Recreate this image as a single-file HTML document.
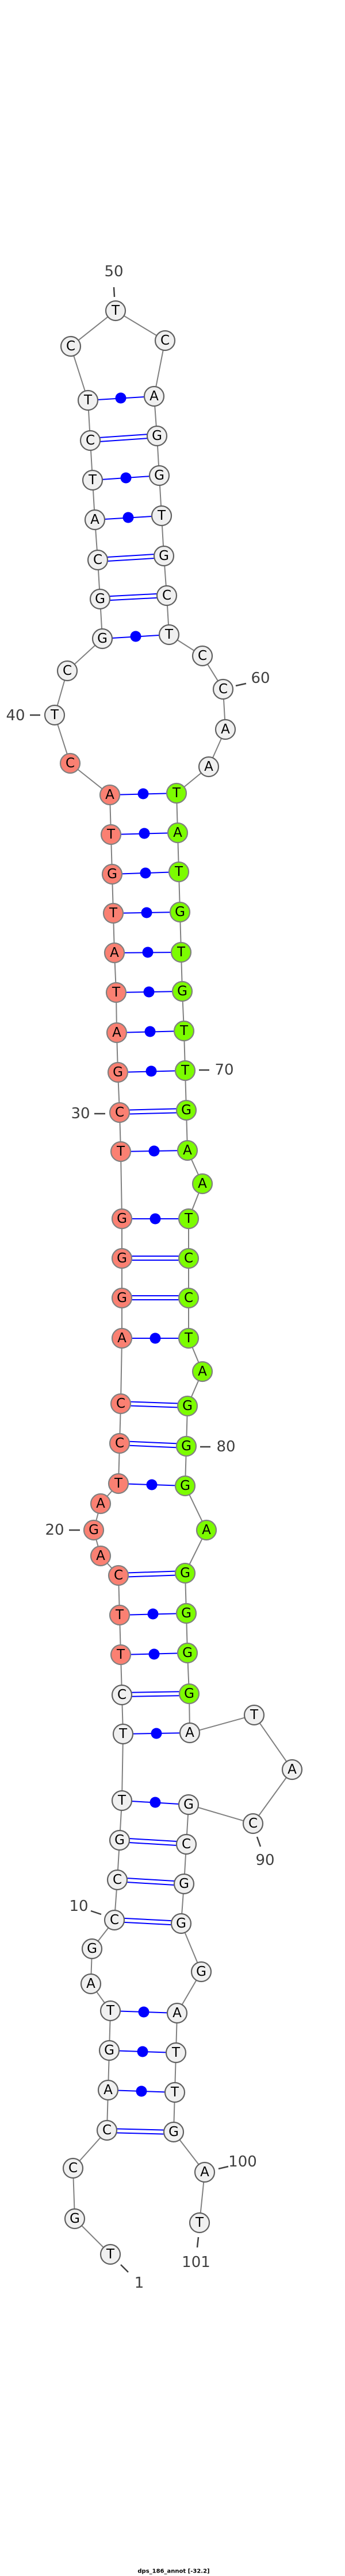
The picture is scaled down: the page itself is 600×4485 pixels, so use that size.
<!DOCTYPE html>
<html><head><meta charset="utf-8"><style>
html,body{margin:0;padding:0;background:#fff;}
svg{display:block;}
.b{stroke:#808080;stroke-width:2;fill:none}
.p{stroke:#0000ff;stroke-width:2;fill:none}
.d{fill:#0000ff}
.n{stroke:#606060;stroke-width:2.2;fill:#f0f0f0}
.s{stroke:#808080;stroke-width:2.2;fill:#fa8072}
.g{stroke:#808080;stroke-width:2.2;fill:#7cfc00}
.t{font-family:"DejaVu Sans","Liberation Sans",sans-serif;font-size:23px;text-anchor:middle;dominant-baseline:central;fill:#000}
.l{font-family:"DejaVu Sans","Liberation Sans",sans-serif;font-size:26px;text-anchor:middle;dominant-baseline:central;fill:#404040}
.k{stroke:#404040;stroke-width:2.5}
</style></head><body>
<svg width="600" height="4485" viewBox="0 0 600 4485" xmlns="http://www.w3.org/2000/svg">
<polyline class="b" points="192,3925 130,3863 127,3775 186,3709 188,3639 190,3570 192,3501 158,3454 160,3393 199,3343 204,3273 208,3204 212,3135 214,3019 212,2951 210,2881 208,2812 206,2743 175,2709 163,2664 175,2618 206,2583 208,2513 210,2444 212,2330 212,2260 212,2191 212,2122 210,2005 208,1937 205,1867 203,1798 202,1728 199,1659 197,1590 195,1522 193,1453 191,1384 122,1329 95,1245 117,1168 178,1112 174,1043 170,975 165,905 161,836 157,767 153,697 123,603 201,541 287,593 268,690 273,759 277,828 281,898 285,968 290,1037 294,1105 352,1142 388,1200 392,1270 363,1335 307,1381 309,1450 311,1518 313,1588 315,1658 317,1726 320,1795 322,1864 324,1933 326,2003 352,2061 328,2122 328,2191 328,2260 328,2330 352,2388 326,2448 324,2518 322,2587 359,2664 322,2739 324,2809 326,2878 329,2949 330,3017 442,2986 508,3081 440,3175 328,3142 324,3211 320,3280 315,3349 350,3433 308,3505 306,3574 304,3643 302,3712 356,3782 347,3870"/>
<!-- single pairs with dot -->
<g class="p">
<line x1="188" y1="3639" x2="304" y2="3643"/><line x1="190" y1="3570" x2="306" y2="3574"/><line x1="192" y1="3501" x2="308" y2="3505"/>
<line x1="212" y1="3135" x2="328" y2="3142"/><line x1="214" y1="3019" x2="330" y2="3017"/>
<line x1="210" y1="2881" x2="326" y2="2878"/><line x1="208" y1="2812" x2="324" y2="2809"/><line x1="206" y1="2583" x2="322" y2="2587"/>
<line x1="212" y1="2330" x2="328" y2="2330"/><line x1="212" y1="2122" x2="328" y2="2122"/><line x1="210" y1="2005" x2="326" y2="2003"/>
<line x1="205" y1="1867" x2="322" y2="1864"/><line x1="203" y1="1798" x2="320" y2="1795"/><line x1="202" y1="1728" x2="317" y2="1726"/>
<line x1="199" y1="1659" x2="315" y2="1658"/><line x1="197" y1="1590" x2="313" y2="1588"/><line x1="195" y1="1522" x2="311" y2="1518"/>
<line x1="193" y1="1453" x2="309" y2="1450"/><line x1="191" y1="1384" x2="307" y2="1381"/>
<line x1="178" y1="1112" x2="294" y2="1105"/><line x1="165" y1="905" x2="281" y2="898"/><line x1="161" y1="836" x2="277" y2="828"/><line x1="153" y1="697" x2="268" y2="690"/>
</g>
<g class="d">
<circle cx="246" cy="3641" r="9.5"/><circle cx="248" cy="3572" r="9.5"/><circle cx="250" cy="3503" r="9.5"/>
<circle cx="270" cy="3138" r="9.5"/><circle cx="272" cy="3018" r="9.5"/>
<circle cx="268" cy="2880" r="9.5"/><circle cx="266" cy="2810" r="9.5"/><circle cx="264" cy="2585" r="9.5"/>
<circle cx="270" cy="2330" r="9.5"/><circle cx="270" cy="2122" r="9.5"/><circle cx="268" cy="2004" r="9.5"/>
<circle cx="263" cy="1865" r="9.5"/><circle cx="261" cy="1796" r="9.5"/><circle cx="259" cy="1727" r="9.5"/>
<circle cx="257" cy="1658" r="9.5"/><circle cx="255" cy="1589" r="9.5"/><circle cx="253" cy="1520" r="9.5"/>
<circle cx="251" cy="1451" r="9.5"/><circle cx="249" cy="1382" r="9.5"/>
<circle cx="236" cy="1108" r="9.5"/><circle cx="223" cy="901" r="9.5"/><circle cx="219" cy="832" r="9.5"/><circle cx="210" cy="693" r="9.5"/>
</g>
<!-- double pairs -->
<g class="p">
<line x1="186" y1="3706" x2="302" y2="3709"/><line x1="186" y1="3713" x2="302" y2="3716"/>
<line x1="199" y1="3339" x2="315" y2="3345"/><line x1="199" y1="3346" x2="315" y2="3352"/>
<line x1="204" y1="3269" x2="320" y2="3276"/><line x1="204" y1="3276" x2="320" y2="3283"/>
<line x1="208" y1="3200" x2="324" y2="3207"/><line x1="208" y1="3207" x2="324" y2="3214"/>
<line x1="212" y1="2947" x2="329" y2="2945"/><line x1="212" y1="2954" x2="329" y2="2952"/>
<line x1="206" y1="2739" x2="322" y2="2735"/><line x1="206" y1="2746" x2="322" y2="2742"/>
<line x1="208" y1="2509" x2="324" y2="2514"/><line x1="208" y1="2516" x2="324" y2="2521"/>
<line x1="210" y1="2440" x2="326" y2="2444"/><line x1="210" y1="2447" x2="326" y2="2451"/>
<line x1="212" y1="2256" x2="328" y2="2256"/><line x1="212" y1="2263" x2="328" y2="2263"/>
<line x1="212" y1="2187" x2="328" y2="2187"/><line x1="212" y1="2194" x2="328" y2="2194"/>
<line x1="208" y1="1933" x2="324" y2="1930"/><line x1="208" y1="1940" x2="324" y2="1937"/>
<line x1="174" y1="1039" x2="290" y2="1033"/><line x1="174" y1="1046" x2="290" y2="1040"/>
<line x1="170" y1="971" x2="285" y2="964"/><line x1="170" y1="978" x2="285" y2="971"/>
<line x1="157" y1="763" x2="273" y2="755"/><line x1="157" y1="770" x2="273" y2="762"/>
</g>
<!-- label ticks -->
<g class="k">
<line x1="198" y1="500" x2="199" y2="517"/><line x1="410" y1="1194" x2="428" y2="1190"/><line x1="52" y1="1245" x2="70" y2="1245"/>
<line x1="346" y1="1863" x2="364" y2="1863"/><line x1="164" y1="1939" x2="183" y2="1939"/><line x1="348" y1="2519" x2="366" y2="2519"/>
<line x1="120" y1="2664" x2="139" y2="2664"/><line x1="447" y1="3198" x2="453" y2="3215"/><line x1="158" y1="3327" x2="176" y2="3333"/>
<line x1="380" y1="3776" x2="397" y2="3772"/><line x1="345" y1="3895" x2="343" y2="3913"/><line x1="210" y1="3943" x2="223" y2="3956"/>
</g>
<g>
<text class="l" x="198" y="473">50</text><text class="l" x="453" y="1181">60</text><text class="l" x="27" y="1246">40</text>
<text class="l" x="390" y="1863">70</text><text class="l" x="140" y="1939">30</text><text class="l" x="393" y="2519">80</text>
<text class="l" x="95" y="2664">20</text><text class="l" x="461" y="3239">90</text><text class="l" x="137" y="3319">10</text>
<text class="l" x="422" y="3764">100</text><text class="l" x="341" y="3939">101</text><text class="l" x="242" y="3975">1</text>
</g>
<!-- nodes -->
<g>
<circle class="n" cx="192" cy="3925" r="17"/><text class="t" x="192" y="3925">T</text>
<circle class="n" cx="130" cy="3863" r="17"/><text class="t" x="130" y="3863">G</text>
<circle class="n" cx="127" cy="3775" r="17"/><text class="t" x="127" y="3775">C</text>
<circle class="n" cx="186" cy="3709" r="17"/><text class="t" x="186" y="3709">C</text>
<circle class="n" cx="188" cy="3639" r="17"/><text class="t" x="188" y="3639">A</text>
<circle class="n" cx="190" cy="3570" r="17"/><text class="t" x="190" y="3570">G</text>
<circle class="n" cx="192" cy="3501" r="17"/><text class="t" x="192" y="3501">T</text>
<circle class="n" cx="158" cy="3454" r="17"/><text class="t" x="158" y="3454">A</text>
<circle class="n" cx="160" cy="3393" r="17"/><text class="t" x="160" y="3393">G</text>
<circle class="n" cx="199" cy="3343" r="17"/><text class="t" x="199" y="3343">C</text>
<circle class="n" cx="204" cy="3273" r="17"/><text class="t" x="204" y="3273">C</text>
<circle class="n" cx="208" cy="3204" r="17"/><text class="t" x="208" y="3204">G</text>
<circle class="n" cx="212" cy="3135" r="17"/><text class="t" x="212" y="3135">T</text>
<circle class="n" cx="214" cy="3019" r="17"/><text class="t" x="214" y="3019">T</text>
<circle class="n" cx="212" cy="2951" r="17"/><text class="t" x="212" y="2951">C</text>
<circle class="s" cx="210" cy="2881" r="17"/><text class="t" x="210" y="2881">T</text>
<circle class="s" cx="208" cy="2812" r="17"/><text class="t" x="208" y="2812">T</text>
<circle class="s" cx="206" cy="2743" r="17"/><text class="t" x="206" y="2743">C</text>
<circle class="s" cx="175" cy="2709" r="17"/><text class="t" x="175" y="2709">A</text>
<circle class="s" cx="163" cy="2664" r="17"/><text class="t" x="163" y="2664">G</text>
<circle class="s" cx="175" cy="2618" r="17"/><text class="t" x="175" y="2618">A</text>
<circle class="s" cx="206" cy="2583" r="17"/><text class="t" x="206" y="2583">T</text>
<circle class="s" cx="208" cy="2513" r="17"/><text class="t" x="208" y="2513">C</text>
<circle class="s" cx="210" cy="2444" r="17"/><text class="t" x="210" y="2444">C</text>
<circle class="s" cx="212" cy="2330" r="17"/><text class="t" x="212" y="2330">A</text>
<circle class="s" cx="212" cy="2260" r="17"/><text class="t" x="212" y="2260">G</text>
<circle class="s" cx="212" cy="2191" r="17"/><text class="t" x="212" y="2191">G</text>
<circle class="s" cx="212" cy="2122" r="17"/><text class="t" x="212" y="2122">G</text>
<circle class="s" cx="210" cy="2005" r="17"/><text class="t" x="210" y="2005">T</text>
<circle class="s" cx="208" cy="1937" r="17"/><text class="t" x="208" y="1937">C</text>
<circle class="s" cx="205" cy="1867" r="17"/><text class="t" x="205" y="1867">G</text>
<circle class="s" cx="203" cy="1798" r="17"/><text class="t" x="203" y="1798">A</text>
<circle class="s" cx="202" cy="1728" r="17"/><text class="t" x="202" y="1728">T</text>
<circle class="s" cx="199" cy="1659" r="17"/><text class="t" x="199" y="1659">A</text>
<circle class="s" cx="197" cy="1590" r="17"/><text class="t" x="197" y="1590">T</text>
<circle class="s" cx="195" cy="1522" r="17"/><text class="t" x="195" y="1522">G</text>
<circle class="s" cx="193" cy="1453" r="17"/><text class="t" x="193" y="1453">T</text>
<circle class="s" cx="191" cy="1384" r="17"/><text class="t" x="191" y="1384">A</text>
<circle class="s" cx="122" cy="1329" r="17"/><text class="t" x="122" y="1329">C</text>
<circle class="n" cx="95" cy="1245" r="17"/><text class="t" x="95" y="1245">T</text>
<circle class="n" cx="117" cy="1168" r="17"/><text class="t" x="117" y="1168">C</text>
<circle class="n" cx="178" cy="1112" r="17"/><text class="t" x="178" y="1112">G</text>
<circle class="n" cx="174" cy="1043" r="17"/><text class="t" x="174" y="1043">G</text>
<circle class="n" cx="170" cy="975" r="17"/><text class="t" x="170" y="975">C</text>
<circle class="n" cx="165" cy="905" r="17"/><text class="t" x="165" y="905">A</text>
<circle class="n" cx="161" cy="836" r="17"/><text class="t" x="161" y="836">T</text>
<circle class="n" cx="157" cy="767" r="17"/><text class="t" x="157" y="767">C</text>
<circle class="n" cx="153" cy="697" r="17"/><text class="t" x="153" y="697">T</text>
<circle class="n" cx="123" cy="603" r="17"/><text class="t" x="123" y="603">C</text>
<circle class="n" cx="201" cy="541" r="17"/><text class="t" x="201" y="541">T</text>
<circle class="n" cx="287" cy="593" r="17"/><text class="t" x="287" y="593">C</text>
<circle class="n" cx="268" cy="690" r="17"/><text class="t" x="268" y="690">A</text>
<circle class="n" cx="273" cy="759" r="17"/><text class="t" x="273" y="759">G</text>
<circle class="n" cx="277" cy="828" r="17"/><text class="t" x="277" y="828">G</text>
<circle class="n" cx="281" cy="898" r="17"/><text class="t" x="281" y="898">T</text>
<circle class="n" cx="285" cy="968" r="17"/><text class="t" x="285" y="968">G</text>
<circle class="n" cx="290" cy="1037" r="17"/><text class="t" x="290" y="1037">C</text>
<circle class="n" cx="294" cy="1105" r="17"/><text class="t" x="294" y="1105">T</text>
<circle class="n" cx="352" cy="1142" r="17"/><text class="t" x="352" y="1142">C</text>
<circle class="n" cx="388" cy="1200" r="17"/><text class="t" x="388" y="1200">C</text>
<circle class="n" cx="392" cy="1270" r="17"/><text class="t" x="392" y="1270">A</text>
<circle class="n" cx="363" cy="1335" r="17"/><text class="t" x="363" y="1335">A</text>
<circle class="g" cx="307" cy="1381" r="17"/><text class="t" x="307" y="1381">T</text>
<circle class="g" cx="309" cy="1450" r="17"/><text class="t" x="309" y="1450">A</text>
<circle class="g" cx="311" cy="1518" r="17"/><text class="t" x="311" y="1518">T</text>
<circle class="g" cx="313" cy="1588" r="17"/><text class="t" x="313" y="1588">G</text>
<circle class="g" cx="315" cy="1658" r="17"/><text class="t" x="315" y="1658">T</text>
<circle class="g" cx="317" cy="1726" r="17"/><text class="t" x="317" y="1726">G</text>
<circle class="g" cx="320" cy="1795" r="17"/><text class="t" x="320" y="1795">T</text>
<circle class="g" cx="322" cy="1864" r="17"/><text class="t" x="322" y="1864">T</text>
<circle class="g" cx="324" cy="1933" r="17"/><text class="t" x="324" y="1933">G</text>
<circle class="g" cx="326" cy="2003" r="17"/><text class="t" x="326" y="2003">A</text>
<circle class="g" cx="352" cy="2061" r="17"/><text class="t" x="352" y="2061">A</text>
<circle class="g" cx="328" cy="2122" r="17"/><text class="t" x="328" y="2122">T</text>
<circle class="g" cx="328" cy="2191" r="17"/><text class="t" x="328" y="2191">C</text>
<circle class="g" cx="328" cy="2260" r="17"/><text class="t" x="328" y="2260">C</text>
<circle class="g" cx="328" cy="2330" r="17"/><text class="t" x="328" y="2330">T</text>
<circle class="g" cx="352" cy="2388" r="17"/><text class="t" x="352" y="2388">A</text>
<circle class="g" cx="326" cy="2448" r="17"/><text class="t" x="326" y="2448">G</text>
<circle class="g" cx="324" cy="2518" r="17"/><text class="t" x="324" y="2518">G</text>
<circle class="g" cx="322" cy="2587" r="17"/><text class="t" x="322" y="2587">G</text>
<circle class="g" cx="359" cy="2664" r="17"/><text class="t" x="359" y="2664">A</text>
<circle class="g" cx="322" cy="2739" r="17"/><text class="t" x="322" y="2739">G</text>
<circle class="g" cx="324" cy="2809" r="17"/><text class="t" x="324" y="2809">G</text>
<circle class="g" cx="326" cy="2878" r="17"/><text class="t" x="326" y="2878">G</text>
<circle class="g" cx="329" cy="2949" r="17"/><text class="t" x="329" y="2949">G</text>
<circle class="n" cx="330" cy="3017" r="17"/><text class="t" x="330" y="3017">A</text>
<circle class="n" cx="442" cy="2986" r="17"/><text class="t" x="442" y="2986">T</text>
<circle class="n" cx="508" cy="3081" r="17"/><text class="t" x="508" y="3081">A</text>
<circle class="n" cx="440" cy="3175" r="17"/><text class="t" x="440" y="3175">C</text>
<circle class="n" cx="328" cy="3142" r="17"/><text class="t" x="328" y="3142">G</text>
<circle class="n" cx="324" cy="3211" r="17"/><text class="t" x="324" y="3211">C</text>
<circle class="n" cx="320" cy="3280" r="17"/><text class="t" x="320" y="3280">G</text>
<circle class="n" cx="315" cy="3349" r="17"/><text class="t" x="315" y="3349">G</text>
<circle class="n" cx="350" cy="3433" r="17"/><text class="t" x="350" y="3433">G</text>
<circle class="n" cx="308" cy="3505" r="17"/><text class="t" x="308" y="3505">A</text>
<circle class="n" cx="306" cy="3574" r="17"/><text class="t" x="306" y="3574">T</text>
<circle class="n" cx="304" cy="3643" r="17"/><text class="t" x="304" y="3643">T</text>
<circle class="n" cx="302" cy="3712" r="17"/><text class="t" x="302" y="3712">G</text>
<circle class="n" cx="356" cy="3782" r="17"/><text class="t" x="356" y="3782">A</text>
<circle class="n" cx="347" cy="3870" r="17"/><text class="t" x="347" y="3870">T</text>
</g>
<text x="302" y="4477" font-family="DejaVu Sans, Liberation Sans, sans-serif" font-size="10" font-weight="bold" text-anchor="middle" dominant-baseline="central" fill="#000">dps_186_annot [-32.2]</text>
</svg>
</body></html>
